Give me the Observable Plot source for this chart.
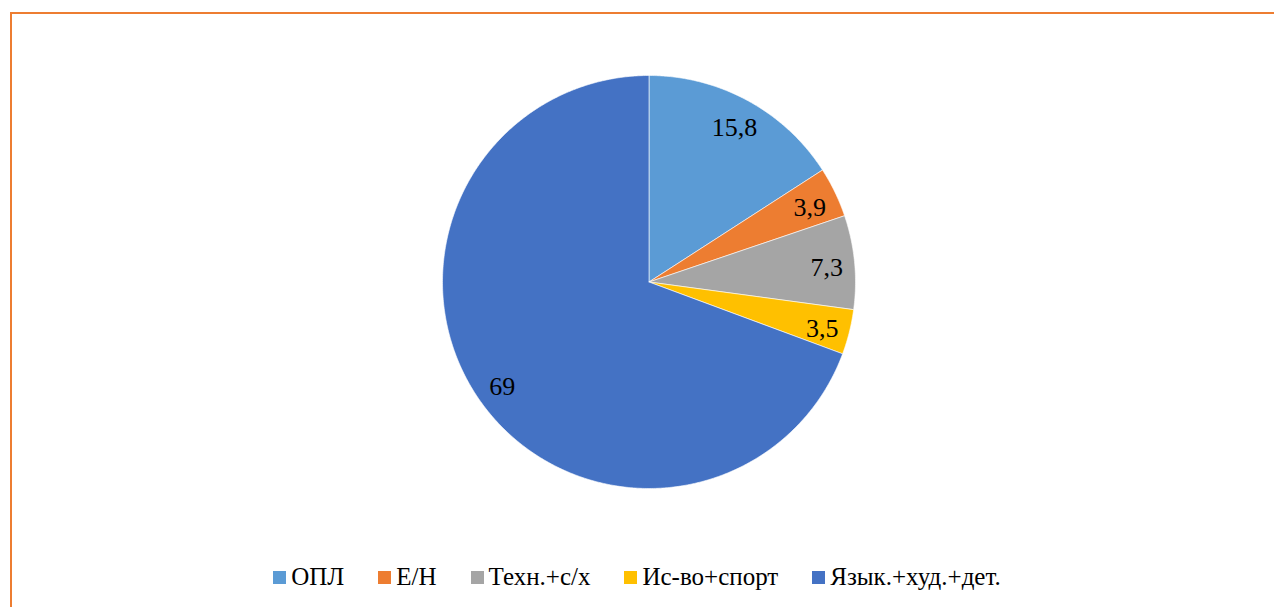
<!DOCTYPE html>
<html>
<head>
<meta charset="utf-8">
<script src="https://cdn.jsdelivr.net/npm/d3@7"></script>
<script src="https://cdn.jsdelivr.net/npm/@observablehq/plot@0.6"></script>
<style>
  html, body { margin: 0; padding: 0; background: #fff; }
  body { width: 1274px; height: 607px; position: relative; overflow: hidden; font-family: "Times New Roman", "Liberation Serif", "DejaVu Serif", serif; }
  #frame { position: absolute; left: 10px; top: 12px; right: -10px; bottom: -10px; border-left: 2.7px solid #ED7D31; border-top: 2.2px solid #ED7D31; pointer-events: none; }
  #chart { position: absolute; left: 0; top: 0; }
  #legend { position: absolute; left: 0; top: 562px; width: 1274px; height: 30px; display: flex; justify-content: center; align-items: center; font-size: 25px; color: #000; }
  .item { display: flex; align-items: center; margin: 0 17px; white-space: nowrap; }
  .sw { width: 13px; height: 13px; margin-right: 5px; }
  #chart text { font-family: "Times New Roman", "Liberation Serif", "DejaVu Serif", serif; }
</style>
</head>
<body>
<div id="chart"></div>
<div id="legend"></div>
<div id="frame"></div>
<script>
const categories = ["ОПЛ", "Е/Н", "Техн.+с/х", "Ис-во+спорт", "Язык.+худ.+дет."];
const values = [15.8, 3.9, 7.3, 3.5, 69];
const colors = ["#5B9BD5", "#ED7D31", "#A5A5A5", "#FFC000", "#4472C4"];

const arcs = d3.pie().sort(null).value(d => d)(values);

const slicePts = [];
arcs.forEach((a, i) => {
  const cat = categories[i];
  slicePts.push({cat, x: 0, y: 0});
  const span = a.endAngle - a.startAngle;
  const n = Math.max(4, Math.ceil(span / (Math.PI / 360)));
  for (let k = 0; k <= n; k++) {
    const t = a.startAngle + span * k / n;
    slicePts.push({cat, x: Math.sin(t), y: Math.cos(t)});
  }
  slicePts.push({cat, x: 0, y: 0});
});

const labelPts = arcs.map((a, i) => {
  const m = (a.startAngle + a.endAngle) / 2;
  const r = 0.865;
  return {cat: categories[i], text: String(values[i]).replace(".", ","), x: Math.sin(m) * r, y: Math.cos(m) * r};
});

const W = 1274, H = 560;
const cx = 648.5, cy = 281.5, R = 206.5;

const chart = Plot.plot({
  width: W,
  height: H,
  marginLeft: cx - R,
  marginRight: W - (cx + R),
  marginTop: cy - R,
  marginBottom: H - (cy + R),
  x: {domain: [-1, 1], axis: null},
  y: {domain: [-1, 1], axis: null},
  color: {domain: categories, range: colors},
  style: {background: "transparent", fontFamily: "'Times New Roman', 'Liberation Serif', 'DejaVu Serif', serif"},
  marks: [
    Plot.line(slicePts, {x: "x", y: "y", z: "cat", fill: "cat", stroke: "white", strokeWidth: 0.6, strokeLinejoin: "miter"}),
    Plot.text(labelPts, {x: "x", y: "y", dy: 3, text: "text", fontSize: 26, fill: "#000"})
  ]
});
document.getElementById("chart").appendChild(chart);

const legend = document.getElementById("legend");
categories.forEach((c, i) => {
  const item = document.createElement("div");
  item.className = "item";
  const sw = document.createElement("div");
  sw.className = "sw";
  sw.style.background = colors[i];
  const tx = document.createElement("span");
  tx.textContent = c;
  item.appendChild(sw);
  item.appendChild(tx);
  legend.appendChild(item);
});
</script>
</body>
</html>
